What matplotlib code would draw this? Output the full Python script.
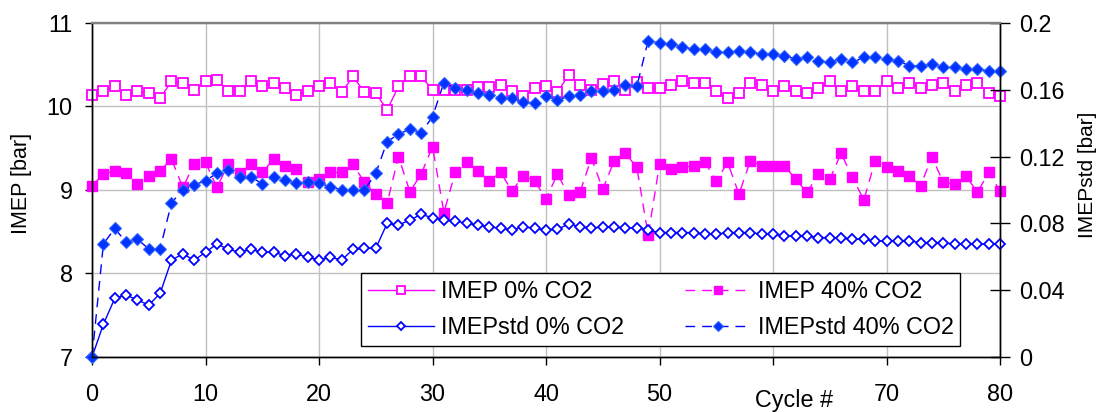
import matplotlib

matplotlib.use("Agg")
import matplotlib.pyplot as plt

plt.rcParams["font.family"] = ["Liberation Sans", "DejaVu Sans"]
plt.rcParams["font.size"] = 16.8

cycles = list(range(81))

imep_0 = [
    10.14, 10.18, 10.24, 10.14, 10.18, 10.16, 10.10, 10.30, 10.28, 10.20,
    10.30, 10.32, 10.18, 10.18, 10.30, 10.24, 10.28, 10.22, 10.14, 10.18,
    10.24, 10.28, 10.17, 10.36, 10.17, 10.16, 9.96, 10.24, 10.36, 10.36,
    10.20, 10.20, 10.20, 10.20, 10.23, 10.23, 10.26, 10.18, 10.12, 10.22,
    10.24, 10.17, 10.38, 10.26, 10.20, 10.27, 10.31, 10.20, 10.29, 10.22,
    10.22, 10.26, 10.30, 10.28, 10.28, 10.18, 10.10, 10.16, 10.28, 10.26,
    10.18, 10.24, 10.18, 10.16, 10.22, 10.30, 10.18, 10.24, 10.18, 10.18,
    10.30, 10.22, 10.28, 10.22, 10.26, 10.28, 10.18, 10.26, 10.28, 10.16,
    10.12,
]
imep_40 = [
    9.05, 9.19, 9.23, 9.20, 9.07, 9.17, 9.23, 9.37, 9.03, 9.31,
    9.33, 9.03, 9.31, 9.20, 9.31, 9.21, 9.37, 9.29, 9.25, 9.09,
    9.13, 9.21, 9.21, 9.31, 9.09, 8.95, 8.84, 9.40, 8.98, 9.19,
    9.52, 8.73, 9.21, 9.33, 9.23, 9.11, 9.21, 8.99, 9.17, 9.11,
    8.89, 9.19, 8.94, 8.98, 9.38, 9.01, 9.35, 9.44, 9.27, 8.46,
    9.31, 9.25, 9.27, 9.29, 9.33, 9.11, 9.33, 8.95, 9.35, 9.29,
    9.29, 9.29, 9.13, 8.97, 9.19, 9.13, 9.44, 9.15, 8.88, 9.35,
    9.27, 9.23, 9.17, 9.05, 9.40, 9.09, 9.07, 9.17, 8.97, 9.21,
    8.99,
]
imep_std_0 = [
    0.0, 0.0196, 0.0351, 0.0371, 0.0341, 0.0311, 0.0381, 0.058, 0.0617, 0.058,
    0.0627, 0.0677, 0.0645, 0.0627, 0.0645, 0.0627, 0.0627, 0.0607, 0.0617, 0.0597,
    0.0581, 0.0597, 0.0581, 0.0645, 0.0651, 0.0651, 0.080, 0.079, 0.082, 0.0854,
    0.0834, 0.082, 0.0814, 0.080, 0.079, 0.078, 0.077, 0.076, 0.078, 0.077,
    0.076, 0.0765, 0.0796, 0.078, 0.077, 0.078, 0.078, 0.077, 0.0775, 0.076,
    0.0745, 0.0745, 0.0745, 0.0745, 0.0735, 0.0735, 0.0745, 0.0745, 0.0745, 0.0735,
    0.0735, 0.0725, 0.0725, 0.0725, 0.0715, 0.0715, 0.0715, 0.0705, 0.0705, 0.0695,
    0.0695, 0.0695, 0.0695, 0.0685, 0.0685, 0.0685, 0.0675, 0.0675, 0.0675, 0.0675,
    0.0675,
]
imep_std_40 = [
    0.0, 0.0677, 0.077, 0.0687, 0.0705, 0.0647, 0.0647, 0.0924, 0.100, 0.103,
    0.1056, 0.110, 0.112, 0.108, 0.108, 0.1036, 0.108, 0.106, 0.104, 0.105,
    0.104, 0.102, 0.100, 0.100, 0.100, 0.110, 0.129, 0.1333, 0.1365, 0.1343,
    0.1439, 0.1643, 0.1608, 0.160, 0.158, 0.1569, 0.155, 0.155, 0.1529, 0.152,
    0.156, 0.154, 0.156, 0.157, 0.159, 0.159, 0.160, 0.163, 0.162, 0.1895,
    0.188, 0.1874, 0.1854, 0.1844, 0.1844, 0.1824, 0.1824, 0.1834, 0.1824, 0.1814,
    0.1814, 0.1804, 0.1784, 0.1794, 0.1774, 0.1764, 0.1784, 0.1764, 0.1794, 0.1794,
    0.1784, 0.1774, 0.1744, 0.1744, 0.1754, 0.1734, 0.1734, 0.1724, 0.1724, 0.1714,
    0.1714,
]

x_ticks = [0, 10, 20, 30, 40, 50, 60, 70, 80]
x_tick_labels = ["0", "10", "20", "30", "40", "50", "", "70", "80"]
left_ticks = [7, 8, 9, 10, 11]
right_ticks = [0, 0.04, 0.08, 0.12, 0.16, 0.2]
right_tick_labels = ["0", "0.04", "0.08", "0.12", "0.16", "0.2"]

MAGENTA = "#ff00ff"
BLUE = "#0000ff"
BLUE_FILL = "#0033ff"

fig = plt.figure(figsize=(11.01, 4.12), dpi=100)
ax = fig.add_axes([0.0836, 0.1335, 0.8247, 0.8107])
ax2 = ax.twinx()

dash = (7, 5)
l1, = ax.plot(cycles, imep_0, color=MAGENTA, lw=1.0, marker="s", ms=6.5,
              mfc="white", mec=MAGENTA, mew=1.3, label="IMEP 0% CO2", clip_on=False)
l2, = ax.plot(cycles, imep_40, color=MAGENTA, lw=1.0, dashes=dash, marker="s", ms=7,
              mfc=MAGENTA, mec=MAGENTA, label="IMEP 40% CO2", clip_on=False)
l3, = ax2.plot(cycles, imep_std_0, color=BLUE, lw=1.0, marker="D", ms=5.5,
               mfc="white", mec=BLUE, mew=1.3, label="IMEPstd 0% CO2", clip_on=False)
l4, = ax2.plot(cycles, imep_std_40, color=BLUE, lw=1.0, dashes=dash, marker="D", ms=6.3,
               mfc=BLUE_FILL, mec="#3366ff", mew=0.8, label="IMEPstd 40% CO2", clip_on=False)

ax.set_xlim(0, 80)
ax.set_ylim(7, 11)
ax2.set_ylim(0, 0.2)

ax.set_xticks(x_ticks)
ax.set_xticklabels(x_tick_labels)
ax.set_yticks(left_ticks)
ax2.set_yticks(right_ticks)
ax2.set_yticklabels(right_tick_labels)

ax.grid(True, color="#c0c0c0", lw=1.0)
ax.set_axisbelow(True)

ax.tick_params(axis="x", direction="out", length=5.5, width=1.0, pad=13.5)
ax.tick_params(axis="y", direction="out", length=5, width=1.0, pad=9)
ax2.tick_params(axis="y", direction="inout", length=14, width=1.0, pad=7)

for a in (ax, ax2):
    a.spines["top"].set_color("#808080")
    a.spines["top"].set_linewidth(1.6)
    for side in ("left", "right", "bottom"):
        a.spines[side].set_color("black")
        a.spines[side].set_linewidth(1.0)

ax.set_ylabel("IMEP [bar]", fontsize=15.5)
ax.yaxis.set_label_coords(-0.066, 0.52)
ax2.set_ylabel("IMEPstd [bar]", fontsize=15)
ax2.yaxis.set_label_coords(1.086, 0.545)
ax.set_xlabel("Cycle #")
ax.xaxis.set_label_coords(0.773, -0.095)

leg = ax2.legend(
    [l1, l3, l2, l4],
    ["IMEP 0% CO2", "IMEPstd 0% CO2", "IMEP 40% CO2", "IMEPstd 40% CO2"],
    ncol=2,
    loc="upper left",
    bbox_to_anchor=(0.296, 0.2515),
    borderaxespad=0.0,
    fancybox=False,
    framealpha=1.0,
    edgecolor="black",
    handlelength=2.83,
    handletextpad=0.3,
    borderpad=0.3,
    labelspacing=0.56,
    columnspacing=2.6,
    markerscale=0.8,
)
leg.get_frame().set_linewidth(1.0)

fig.savefig("out.png", dpi=100)
